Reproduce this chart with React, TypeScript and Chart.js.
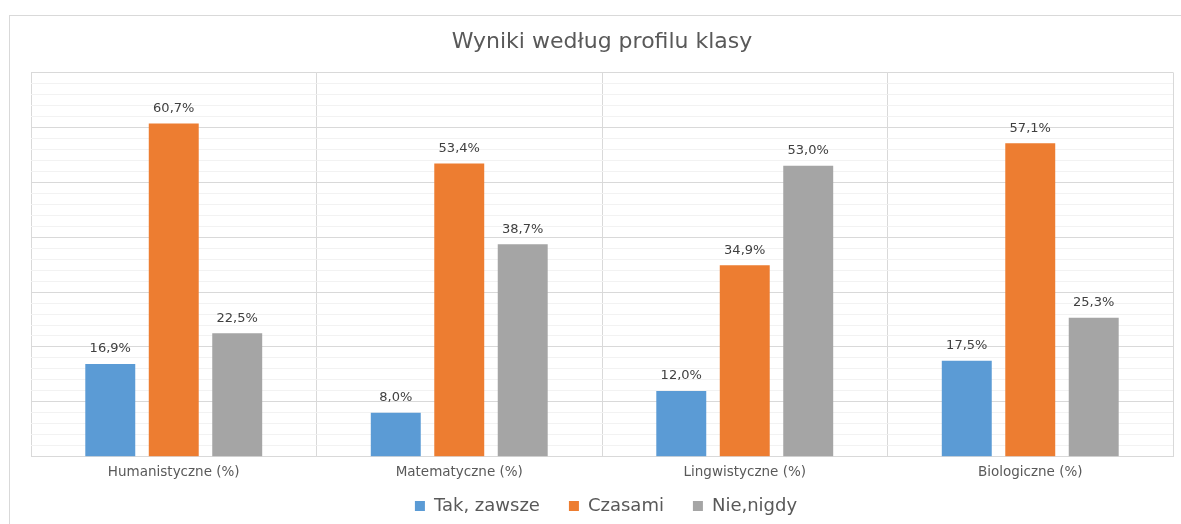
import React, { useEffect, useRef } from "react";
import { Chart, registerables } from "chart.js";

Chart.register(...registerables);

const categories = ["Humanistyczne (%)", "Matematyczne (%)", "Lingwistyczne (%)", "Biologiczne (%)"];
const seriesNames = ["Tak, zawsze", "Czasami", "Nie,nigdy"];
const takZawsze = [16.9, 8.0, 12.0, 17.5];
const czasami = [60.7, 53.4, 34.9, 57.1];
const nieNigdy = [22.5, 38.7, 53.0, 25.3];
const seriesColors = ["#5B9BD5", "#ED7D31", "#A5A5A5"];
const titleText = "Wyniki według profilu klasy";
const FONT = "'DejaVu Sans', sans-serif";

const framePlugin = {
  id: "frame",
  beforeDraw(chart: any) {
    const ctx = chart.ctx;
    ctx.save();
    ctx.fillStyle = "#ffffff";
    ctx.fillRect(0, 0, chart.width, chart.height);
    ctx.strokeStyle = "#d9d9d9";
    ctx.lineWidth = 1;
    ctx.strokeRect(9.5, 15.5, chart.width + 20, chart.height + 20);
    ctx.restore();
  },
};

const labelPlugin = {
  id: "barLabels",
  afterDatasetsDraw(chart: any) {
    const ctx = chart.ctx;
    ctx.save();
    ctx.font = `13px ${FONT}`;
    ctx.fillStyle = "#404040";
    ctx.textAlign = "center";
    ctx.textBaseline = "middle";
    chart.data.datasets.forEach((ds: any, i: number) => {
      const meta = chart.getDatasetMeta(i);
      meta.data.forEach((bar: any, j: number) => {
        const v = ds.data[j] as number;
        const txt = v.toFixed(1).replace(".", ",") + "%";
        ctx.fillText(txt, bar.x, bar.y - 15);
      });
    });
    ctx.restore();
  },
};

const legendPlugin = {
  id: "customLegend",
  afterDraw(chart: any) {
    const ctx = chart.ctx;
    const area = chart.chartArea;
    ctx.save();
    ctx.font = `18px ${FONT}`;
    ctx.textBaseline = "middle";
    ctx.textAlign = "left";
    const box = 10;
    const textGap = 9;
    const itemGap = 29;
    const widths = seriesNames.map((n) => box + textGap + ctx.measureText(n).width);
    const total = widths.reduce((a, b) => a + b, 0) + itemGap * (seriesNames.length - 1);
    let x = (area.left + area.right) / 2 - total / 2 + 4;
    const y = 506;
    seriesNames.forEach((n, i) => {
      ctx.fillStyle = seriesColors[i];
      ctx.fillRect(x, y - box / 2, box, box);
      ctx.fillStyle = "#595959";
      ctx.fillText(n, x + box + textGap, y);
      x += widths[i] + itemGap;
    });
    ctx.restore();
  },
};

export default function App() {
  const ref = useRef<HTMLCanvasElement | null>(null);
  useEffect(() => {
    if (!ref.current) return;
    const data = [takZawsze, czasami, nieNigdy];
    const chart = new Chart(ref.current, {
      type: "bar",
      data: {
        labels: categories,
        datasets: seriesNames.map((name, i) => ({
          label: name,
          data: data[i],
          backgroundColor: seriesColors[i],
          borderWidth: 0,
          categoryPercentage: 0.667,
          barPercentage: 0.787,
        })),
      },
      options: {
        responsive: false,
        animation: false,
        devicePixelRatio: 1,
        layout: { padding: { left: 31, right: 8, top: 29, bottom: 35 } },
        plugins: {
          title: {
            display: true,
            text: titleText,
            color: "#595959",
            font: { family: FONT, size: 22, weight: "normal" },
            padding: { top: 0, bottom: 17 },
          },
          legend: { display: false },
          tooltip: { enabled: false },
        },
        scales: {
          x: {
            grid: { color: "#d9d9d9", drawTicks: false, offset: true },
            border: { color: "#d9d9d9" },
            ticks: { color: "#595959", font: { family: FONT, size: 13.5 }, padding: 8 },
          },
          y: {
            min: 0,
            max: 70,
            ticks: { stepSize: 2, display: false },
            grid: {
              drawTicks: false,
              color: (c: any) => (c.tick && Math.round(c.tick.value) % 10 === 0 ? "#d9d9d9" : "#f2f2f2"),
            },
            border: { display: false },
          },
        },
      },
      plugins: [framePlugin, labelPlugin, legendPlugin],
    });
    return () => chart.destroy();
  }, []);
  return (
    <div style={{ position: "fixed", left: 0, top: 0, width: 1181, height: 524 }}>
      <canvas ref={ref} width={1181} height={524} />
    </div>
  );
}
